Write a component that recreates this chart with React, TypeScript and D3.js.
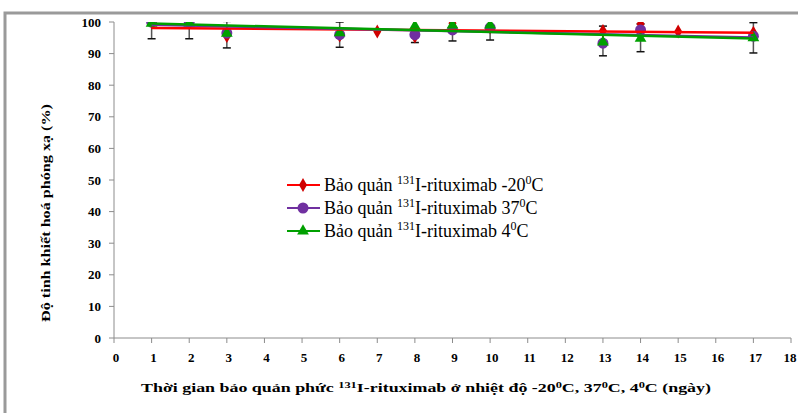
import * as d3 from "d3";

// ngày bảo quản
const daysRed = [1, 2, 3, 6, 7, 8, 9, 10, 13, 14, 15, 17];
const valRed = [100, 100, 95.5, 95.7, 97.0, 95.4, 99.6, 98.3, 97.2, 99.4, 97.0, 96.6];
const daysPurple = [1, 2, 3, 6, 8, 9, 10, 13, 14, 17];
const valPurple = [100, 100, 96.5, 96.0, 96.0, 97.5, 98.2, 93.3, 97.5, 95.5];
const daysGreen = [1, 2, 3, 6, 8, 9, 10, 13, 14, 17];
const valGreen = [99.6, 99.6, 96.4, 96.6, 98.7, 99.0, 99.0, 93.6, 94.8, 95.0];

// đường xu hướng (giá trị tại ngày 1 và ngày 17)
const trendDays = [1, 17];
const trendRed = [98.1, 96.6];
const trendPurple = [99.1, 95.1];
const trendGreen = [99.5, 94.8];

// thanh sai số
const errDays = [1, 2, 3, 6, 8, 9, 10, 13, 14, 17];
const errMean = [100, 100, 96.0, 96.0, 97.0, 97.5, 98.5, 94.0, 95.0, 95.0];
const errSize = [5.3, 5.3, 4.2, 4.0, 3.5, 3.5, 4.2, 4.7, 4.4, 4.8];

const xTicks = d3.range(0, 19);
const yTicks = d3.range(0, 101, 10);

const legendLabels = ["-20", "37", "4"];

const RED = "#ff0000";
const PURPLE = "#7030a0";
const GREEN = "#00a000";

export default function App() {
  const x = d3.scaleLinear().domain([0, 18]).range([114, 791]);
  const y = d3.scaleLinear().domain([0, 100]).range([338, 22]);
  const line = d3.line<[number, number]>().x(d => x(d[0])).y(d => y(d[1]));

  const series = [
    {days: daysRed, vals: valRed, trend: trendRed, color: RED, mark: "diamond", fill: "#d00000"},
    {days: daysPurple, vals: valPurple, trend: trendPurple, color: PURPLE, mark: "circle", fill: PURPLE},
    {days: daysGreen, vals: valGreen, trend: trendGreen, color: GREEN, mark: "triangle", fill: GREEN},
  ];

  const marker = (kind: string, cx: number, cy: number, fill: string, key: any) => {
    if (kind === "circle") return <circle key={key} cx={cx} cy={cy} r={5.5} fill={fill} />;
    const sym = kind === "diamond" ? d3.symbolDiamond : d3.symbolTriangle;
    const size = kind === "diamond" ? 55 : 60;
    return <path key={key} d={d3.symbol().type(sym).size(size)() as string}
                 transform={`translate(${cx},${cy})`} fill={fill} />;
  };

  const font = "'Liberation Serif', 'Times New Roman', serif";

  return (
    <svg width={798} height={413} style={{position: "absolute", left: 0, top: 0, background: "#fff"}}
         fontFamily={font}>
      <defs>
        <clipPath id="plot">
          <rect x={100} y={22} width={700} height={320} />
        </clipPath>
      </defs>
      {/* khung */}
      <path d="M5,413 V13 H798" fill="none" stroke="#9a9a9a" strokeWidth={3} />

      {/* trục y */}
      <line x1={x(0)} x2={x(0)} y1={y(0)} y2={y(100)} stroke="#8c8c8c" />
      {yTicks.map(t => (
        <g key={t}>
          <line x1={x(0) - 5} x2={x(0)} y1={y(t)} y2={y(t)} stroke="#8c8c8c" />
          <text x={101} y={y(t)} dy="0.35em" textAnchor="end" fontSize={13} fontWeight="bold">{t}</text>
        </g>
      ))}
      {/* trục x */}
      <line x1={x(0)} x2={x(18)} y1={y(0)} y2={y(0)} stroke="#8c8c8c" />
      {xTicks.map(t => (
        <g key={t}>
          <line x1={x(t)} x2={x(t)} y1={y(0)} y2={y(0) + 5} stroke="#8c8c8c" />
          <text x={t === 18 ? 790 : x(t) + 2} y={357} dy="0.35em" textAnchor="middle" fontSize={13}
                fontWeight="bold">{t}</text>
        </g>
      ))}

      <text transform="translate(50,213) rotate(-90)" textAnchor="middle"
            fontSize={13} fontWeight="bold" textLength={218} lengthAdjust="spacingAndGlyphs">
        Độ tinh khiết hoá phóng xạ (%)
      </text>
      <text x={426} y={392} textAnchor="middle" fontSize={13} fontWeight="bold"
            textLength={570} lengthAdjust="spacingAndGlyphs">
        Thời gian bảo quản phức <tspan fontSize={9} dy={-4}>131</tspan>
        <tspan dy={4}>I-rituximab ở nhiệt độ -20</tspan><tspan fontSize={9} dy={-4}>0</tspan>
        <tspan dy={4}>C, 37</tspan><tspan fontSize={9} dy={-4}>0</tspan>
        <tspan dy={4}>C, 4</tspan><tspan fontSize={9} dy={-4}>0</tspan>
        <tspan dy={4}>C (ngày)</tspan>
      </text>

      <g clipPath="url(#plot)">
        {/* sai số */}
        {errDays.map((d, i) => {
          const cx = x(d);
          const y1 = y(errMean[i] + errSize[i]);
          const y2 = y(errMean[i] - errSize[i]);
          return (
            <g key={d} stroke="#111" strokeWidth={1.5}>
              <line x1={cx} x2={cx} y1={y1} y2={y2} stroke="#555" />
              <line x1={cx - 4} x2={cx + 4} y1={y1} y2={y1} />
              <line x1={cx - 4} x2={cx + 4} y1={y2} y2={y2} />
            </g>
          );
        })}
        {series.map((s, si) => (
          <g key={si}>
            {s.days.map((d, i) => marker(s.mark, x(d), y(s.vals[i]), s.fill, i))}
          </g>
        ))}
        {series.map((s, si) => (
          <path key={si} d={line(trendDays.map((d, i) => [d, s.trend[i]] as [number, number])) as string}
                fill="none" stroke={s.color} strokeWidth={2.5} />
        ))}
      </g>

      {/* chú thích */}
      {series.map((s, i) => {
        const ly = 185 + i * 23;
        return (
          <g key={i}>
            <line x1={287} x2={320} y1={ly} y2={ly} stroke={s.color} strokeWidth={2} />
            {marker(s.mark, 303, ly, s.fill, "m")}
            <text x={324} y={ly} dy="0.35em" fontSize={18}>
              Bảo quản <tspan fontSize={12} dy={-7}>131</tspan>
              <tspan dy={7}>I-rituximab {legendLabels[i]}</tspan>
              <tspan fontSize={12} dy={-7}>0</tspan><tspan dy={7}>C</tspan>
            </text>
          </g>
        );
      })}
    </svg>
  );
}
